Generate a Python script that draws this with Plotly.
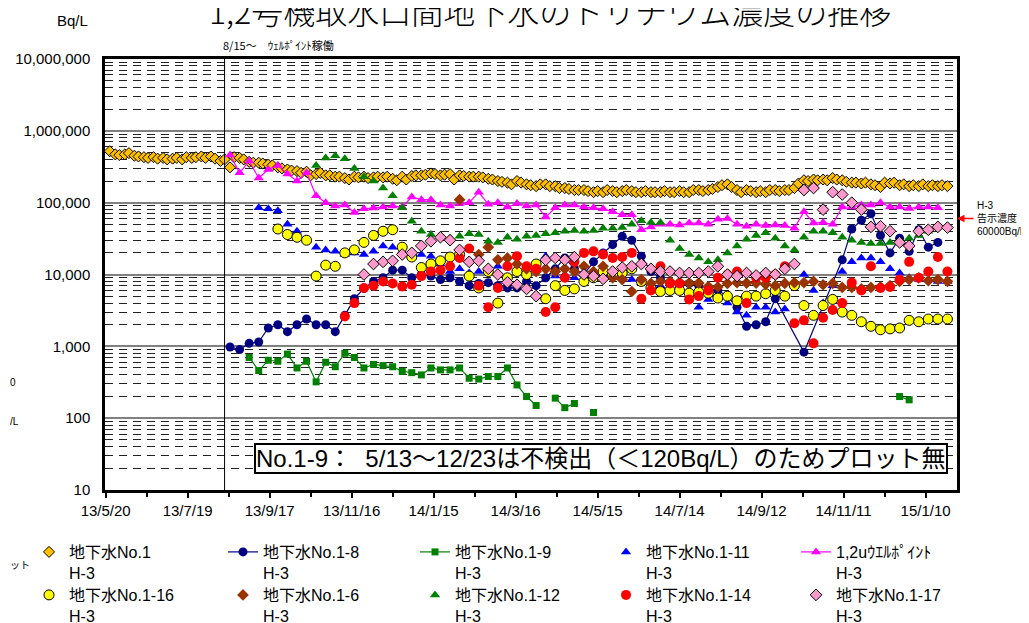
import math
import plotly.graph_objects as go

# weekly sampling dates (Mondays) shared by the weekly series
weeks = [
    "2013-05-20", "2013-05-27", "2013-06-03", "2013-06-10", "2013-06-17", "2013-06-24",
    "2013-07-01", "2013-07-08", "2013-07-15", "2013-07-22", "2013-07-29", "2013-08-05",
    "2013-08-12", "2013-08-19", "2013-08-26", "2013-09-02", "2013-09-09", "2013-09-16",
    "2013-09-23", "2013-09-30", "2013-10-07", "2013-10-14", "2013-10-21", "2013-10-28",
    "2013-11-04", "2013-11-11", "2013-11-18", "2013-11-25", "2013-12-02", "2013-12-09",
    "2013-12-16", "2013-12-23", "2013-12-30",
    "2014-01-06", "2014-01-13", "2014-01-20", "2014-01-27", "2014-02-03", "2014-02-10",
    "2014-02-17", "2014-02-24", "2014-03-03", "2014-03-10", "2014-03-17", "2014-03-24",
    "2014-03-31", "2014-04-07", "2014-04-14", "2014-04-21", "2014-04-28", "2014-05-05",
    "2014-05-12", "2014-05-19", "2014-05-26", "2014-06-02", "2014-06-09", "2014-06-16",
    "2014-06-23", "2014-06-30", "2014-07-07", "2014-07-14", "2014-07-21", "2014-07-28",
    "2014-08-04", "2014-08-11", "2014-08-18", "2014-08-25", "2014-09-01", "2014-09-08",
    "2014-09-15", "2014-09-22", "2014-09-29", "2014-10-06", "2014-10-13", "2014-10-20",
    "2014-10-27", "2014-11-03", "2014-11-10", "2014-11-17", "2014-11-24", "2014-12-01",
    "2014-12-08", "2014-12-15", "2014-12-22", "2014-12-29",
    "2015-01-05", "2015-01-12", "2015-01-19", "2015-01-26",
]

# 地下水No.1 (twice a week)
no1_samples = [
    ("2013-05-23", 520000), ("2013-05-27", 470000), ("2013-05-30", 460000), ("2013-06-03", 470000),
    ("2013-06-06", 490000), ("2013-06-10", 450000), ("2013-06-13", 440000), ("2013-06-17", 430000),
    ("2013-06-20", 420000), ("2013-06-24", 430000), ("2013-06-27", 410000), ("2013-07-01", 420000),
    ("2013-07-04", 400000), ("2013-07-08", 410000), ("2013-07-11", 420000), ("2013-07-15", 400000),
    ("2013-07-18", 430000), ("2013-07-22", 420000), ("2013-07-25", 430000), ("2013-07-29", 440000),
    ("2013-08-01", 420000), ("2013-08-05", 440000), ("2013-08-08", 410000), ("2013-08-12", 380000),
    ("2013-08-15", 400000), ("2013-08-19", 310000), ("2013-08-22", 430000), ("2013-08-26", 420000),
    ("2013-08-29", 400000), ("2013-09-02", 370000), ("2013-09-05", 360000), ("2013-09-09", 360000),
    ("2013-09-12", 350000), ("2013-09-16", 340000), ("2013-09-19", 330000), ("2013-09-23", 310000),
    ("2013-09-26", 300000), ("2013-09-30", 290000), ("2013-10-03", 280000), ("2013-10-07", 275000),
    ("2013-10-10", 260000), ("2013-10-14", 270000), ("2013-10-17", 240000), ("2013-10-21", 250000),
    ("2013-10-24", 260000), ("2013-10-28", 240000), ("2013-10-31", 240000), ("2013-11-04", 230000),
    ("2013-11-07", 230000), ("2013-11-11", 220000), ("2013-11-14", 210000), ("2013-11-18", 230000),
    ("2013-11-21", 225000), ("2013-11-25", 230000), ("2013-11-28", 220000), ("2013-12-02", 225000),
    ("2013-12-05", 230000), ("2013-12-09", 225000), ("2013-12-12", 230000), ("2013-12-16", 215000),
    ("2013-12-19", 205000), ("2013-12-23", 230000), ("2013-12-26", 210000), ("2013-12-30", 235000),
    ("2014-01-02", 240000), ("2014-01-06", 240000), ("2014-01-09", 245000), ("2014-01-13", 255000),
    ("2014-01-16", 250000), ("2014-01-20", 240000), ("2014-01-23", 245000), ("2014-01-27", 250000),
    ("2014-01-30", 210000), ("2014-02-03", 240000), ("2014-02-06", 235000), ("2014-02-10", 230000),
    ("2014-02-13", 230000), ("2014-02-17", 230000), ("2014-02-20", 225000), ("2014-02-24", 215000),
    ("2014-02-27", 210000), ("2014-03-03", 200000), ("2014-03-06", 195000), ("2014-03-10", 190000),
    ("2014-03-13", 180000), ("2014-03-17", 200000), ("2014-03-20", 190000), ("2014-03-24", 180000),
    ("2014-03-27", 175000), ("2014-03-31", 170000), ("2014-04-03", 180000), ("2014-04-07", 180000),
    ("2014-04-10", 170000), ("2014-04-14", 170000), ("2014-04-17", 160000), ("2014-04-21", 160000),
    ("2014-04-24", 155000), ("2014-04-28", 150000), ("2014-05-01", 150000), ("2014-05-05", 150000),
    ("2014-05-08", 145000), ("2014-05-12", 140000), ("2014-05-15", 145000), ("2014-05-19", 140000),
    ("2014-05-22", 150000), ("2014-05-26", 145000), ("2014-05-29", 140000), ("2014-06-02", 145000),
    ("2014-06-05", 150000), ("2014-06-09", 145000), ("2014-06-12", 140000), ("2014-06-16", 140000),
    ("2014-06-19", 145000), ("2014-06-23", 140000), ("2014-06-26", 140000), ("2014-06-30", 140000),
    ("2014-07-03", 145000), ("2014-07-07", 140000), ("2014-07-10", 140000), ("2014-07-14", 145000),
    ("2014-07-17", 140000), ("2014-07-21", 140000), ("2014-07-24", 150000), ("2014-07-28", 150000),
    ("2014-07-31", 145000), ("2014-08-04", 150000), ("2014-08-07", 155000), ("2014-08-11", 165000),
    ("2014-08-14", 175000), ("2014-08-18", 180000), ("2014-08-21", 165000), ("2014-08-25", 150000),
    ("2014-08-28", 140000), ("2014-09-01", 150000), ("2014-09-04", 145000), ("2014-09-08", 140000),
    ("2014-09-11", 145000), ("2014-09-15", 140000), ("2014-09-18", 150000), ("2014-09-22", 150000),
    ("2014-09-25", 145000), ("2014-09-29", 150000), ("2014-10-02", 150000), ("2014-10-06", 160000),
    ("2014-10-09", 185000), ("2014-10-13", 205000), ("2014-10-16", 200000), ("2014-10-20", 210000),
    ("2014-10-23", 205000), ("2014-10-27", 210000), ("2014-10-30", 205000), ("2014-11-03", 220000),
    ("2014-11-06", 210000), ("2014-11-10", 205000), ("2014-11-13", 195000), ("2014-11-17", 190000),
    ("2014-11-20", 190000), ("2014-11-24", 185000), ("2014-11-27", 190000), ("2014-12-01", 180000),
    ("2014-12-04", 175000), ("2014-12-08", 165000), ("2014-12-11", 190000), ("2014-12-15", 185000),
    ("2014-12-18", 190000), ("2014-12-22", 175000), ("2014-12-25", 180000), ("2014-12-29", 170000),
    ("2015-01-01", 175000), ("2015-01-05", 170000), ("2015-01-08", 180000), ("2015-01-12", 170000),
    ("2015-01-15", 175000), ("2015-01-19", 170000), ("2015-01-22", 175000), ("2015-01-26", 170000),
]

# weekly series, aligned with `weeks` (None = no measurement / not plotted)
no1_8 = [None] * 13 + [
    980, 900, 1100, 1150, 1800, 2000, 1600, 2000, 2400, 2000, 2000, 1600,
    2700, 4600, 6400, 8000, 9000, 11500, 11500, 9000, 10000, 9500, 8500, 9000,
    8000, 7000, 7500, 7700, 7000, 6500, 6500, 8000, 7000, 9000, 12000, 17000,
    12000, 10000, 15000, 20000, 26000, 34000, 30000, 18000, 11000, 9000, 7500, 7000,
    7500, 7000, 6500, 6000, 5000, 3500, 1900, 2000, 2200, 4600, None, None,
    830, None, None, None, 16000, 43000, 57000, 70000, 35000, 20000, 32000, 21000, 42000, 24000, 28000,
] + [None]

no1_9 = [None] * 15 + [
    700, 460, 640, 620, 780, 500, 620, 320, 600, 520, 800, 700,
    500, 560, 540, 520, 450, 430, 400, 500, 470, 470, 500, 360,
    350, 380, 380, 500, 290, 200, 150, None, 190, 140, 160, None, 120,
] + [None] * 31 + [200, 180] + [None] * 4

no1_11 = [None] * 16 + [
    85000, 82000, 77000, 50000, 40000, 30000, 24000, 22000, 21000, 19000, 20000, 19000,
    21000, 25000, 24000, 21000, 20000, 19000, 18000, 14000, 11000, 12000, 10500, 11000,
    12000, 13000, 13000, 12000, 11000, 12000, 18000, 9500, 10000, 9000, 10000, 11000,
    10000, 9000, 9500, 8500, 7700, 6000, 7000, 8000, 5800, 4800, 3500, 4500,
    5000, 4000, 3000, 2700, 3500, 3500, 3000, 3300, 7000, 10000, 6000, 4000,
    7000, 11000, 15000, 17000, 17000, 15000, 12000, 10500, 9000, 8500, 8500, 8000, 8000,
]

wellpoint = [None] * 13 + [
    460000, 260000, 380000, 220000, 290000, 330000, 250000, 200000, 260000,
    125000, 100000, 90000, 93000, 73000, 82000, 84000, 87000, 90000, 87000, 120000,
    110000, 110000, 93000, 90000, 97000, 100000, 140000, 95000, 100000, 87000, 97000, 90000, 93000,
    63000, 85000, 93000, 93000, 87000, 85000, 82000, 75000, 68000, 68000, 42000, 46000, 50000,
    50000, 49000, 52000, 52000, 50000, 59000, 60000, 50000, 47000, 50000, 48000, 49000, 48000, 44000,
    75000, 52000, 53000, 50000, 87000, 87000, 93000, 93000, 100000, 87000, 87000, 83000, 87000, 87000, 85000,
] + [None]

no1_16 = [None] * 18 + [
    43000, 36000, 33000, 30000, 9500, 13500, 13000, 20000, 22000, 28000, 35000, 40000,
    42000, 24000, 17500, 12500, 14000, 15500, 17500, 19000, 9500, 6500, 11000, 4000,
    9000, 11000, 10000, 14000, 4600, 7000, 6000, 6300, 8000, 9000, 11000, 10000,
    10500, 12000, 8000, 6500, 5800, 6000, 6000, 5500, 5700, 5500, 4700, 5000,
    4300, 5000, 5000, 5400, 6000, 5000, 7000, 3700, 2700, 3700, 4500, 3000,
    2700, 2200, 1900, 1700, 1750, 1800, 2300, 2200, 2400, 2400, 2400,
]

no1_6 = [None] * 37 + [110000, None] + [
    19000, 24000, 16000, 17000, 14000, 12000, 11000, 12000, 11000, 12000, 11000, 13000,
    11000, 13000, 9000, 8500, 5800, 8500, 7500, 8000, 8000, 7800, 7600, 7600,
    6800, 6700, 7500, 7700, 7600, 7600, 7300, 7000, 7500, 7700, 7700, 8000,
    7200, 7500, 6600, 6600, 6300, 6600, 6700, 7000, 8000, 8500, 9000, 8200, 8500, 8000,
]

no1_12 = [None] * 22 + [
    330000, 420000, 450000, 410000, 300000, 230000, 200000, 160000, 125000, 85000, 55000, 40000,
    36000, 35000, 32000, 34000, 37000, 36000, 29000, 28000, 33000, 31000, 34000, 35000,
    37000, 38000, 40000, 41000, 40000, 41000, 44000, 44000, 45000, 50000, 56000, 53000,
    53000, 30000, 23000, 19000, 17000, 15000, 16000, 20000, 25000, 31000, 35000, 38000,
    32000, 25000, 22000, 33000, 40000, 40000, 38000, 33000, 30000, 28000, 27000, 27000,
    28000, 29000, 32000, 35000, 40000, 46000,
] + [None]

no1_14 = [None] * 25 + [
    2600, 4000, 6500, 7000, 8000, 7500, 6800, 7200, 9500, 11000, 11500, 13000,
    17000, 23000, 7000, 3500, 6500, 13000, 18000, 13000, 12000, 3000, 3500, 9000,
    15000, 20000, 21000, 19000, 17000, 17500, 20000, 4600, 6000, 13000, 7500, 7500,
    4500, 5000, 6000, 9000, 10000, 11000, 4000, 9000, 9000, 10000, 13000, 2100,
    2300, 1100, 2500, 3200, 4000, 7700, 6000, 13000, 6500, 6700, 8500, 15000,
    9000, 11000, 17500, 11000,
]

no1_17 = [None] * 27 + [
    10000, 14000, 15000, 15500, 19000, 20000, 25000, 29000, 33000, 30000, 22000, 15000,
    15500, 12000, 10000, 7800, 7200, 6300, 5000, 16000, 17000, 16000, 17500, 10000,
    9500, 8700, 11000, 12500, 13000, 14000, 12000, 11000, 11000, 10500, 10500, 10500,
    11000, 13000, 10000, 9500, 10500, 9700, 10500, 10000, 12000, 14000, 150000, 160000,
    80000, 140000, 130000, 100000, 80000, 46000, 47000, 40000, 28000, 25000, 40000, 42000,
    46000, 45000,
]

x_tick_dates = ["2013-05-20", "2013-07-19", "2013-09-17", "2013-11-16", "2014-01-15", "2014-03-16",
                "2014-05-15", "2014-07-14", "2014-09-12", "2014-11-11", "2015-01-10"]
x_tick_labels = ["13/5/20", "13/7/19", "13/9/17", "13/11/16", "14/1/15", "14/3/16",
                 "14/5/15", "14/7/14", "14/9/12", "14/11/11", "15/1/10"]
x_minor_dates = ["2013-06-19", "2013-08-18", "2013-10-17", "2013-12-16", "2014-02-14", "2014-04-15",
                 "2014-06-14", "2014-08-13", "2014-10-12", "2014-12-11"]
y_tick_vals = [10, 100, 1000, 10000, 100000, 1000000, 10000000]
y_tick_labels = ["10", "100", "1,000", "10,000", "100,000", "1,000,000", "10,000,000"]
y_minor_vals = [m * 10 ** e for e in range(1, 7) for m in range(2, 10)]

for s in (no1_8, no1_9, no1_11, wellpoint, no1_16, no1_6, no1_12, no1_14, no1_17):
    assert len(s) == len(weeks), len(s)

FONT = "Liberation Sans, Arial, Noto Sans CJK JP, sans-serif"

# the page body has an 8px margin, so the figure is drawn 8px smaller and laid out in page pixels
OFF = 8
W, H = 1029 - OFF, 623 - OFF
PL, PR, PT, PB = 105, 957, 59, 490  # plot area in page pixels

# legend grid: 5 columns x 2 rows (page pixels)
legend_cols = [29, 223, 415, 606, 796]
legend_rows = [535, 578]

fig = go.Figure()
legends = {}


def add(name, x, y, slot, symbol, color, size, line=None, outline=None, gaps=False):
    row, col = divmod(slot, 5)
    key = "legend" if slot == 0 else f"legend{slot + 1}"
    legends[key] = dict(
        xref="container", yref="container", xanchor="left", yanchor="top",
        x=(legend_cols[col] - OFF) / W, y=1 - (legend_rows[row] - OFF) / H,
        valign="top", bgcolor="rgba(0,0,0,0)",
        font=dict(family=FONT, size=16, color="#000"),
    )
    marker = dict(symbol=symbol, color=color, size=size,
                  line=dict(color=outline or color, width=1 if outline else 0))
    fig.add_trace(go.Scatter(
        x=x, y=y, name=name, legend=key,
        mode="lines+markers" if line else "markers",
        marker=marker, line=dict(color=line, width=1.2) if line else None,
        connectgaps=gaps,
    ))


no1_x = [d for d, _ in no1_samples]
no1_y = [v for _, v in no1_samples]

add("地下水No.1<br>H-3", no1_x, no1_y, 0, "diamond", "#FFC000", 8.5, outline="#000000")
add("地下水No.1-8<br>H-3", weeks, no1_8, 1, "circle", "#000080", 9, line="#000080", gaps=True)
add("地下水No.1-9<br>H-3", weeks, no1_9, 2, "square", "#008000", 7, line="#008000")
add("地下水No.1-11<br>H-3", weeks, no1_11, 3, "triangle-up", "#0000FF", 9)
add("1,2uｳｴﾙﾎﾟｲﾝﾄ<br>H-3", weeks, wellpoint, 4, "triangle-up", "#FF00FF", 9,
    line="#FF00FF", gaps=True)
add("地下水No.1-16<br>H-3", weeks, no1_16, 5, "circle", "#FFFF00", 10, outline="#000000")
add("地下水No.1-6<br>H-3", weeks, no1_6, 6, "diamond", "#993300", 9)
add("地下水No.1-12<br>H-3", weeks, no1_12, 7, "triangle-up", "#008000", 9)
add("地下水No.1-14<br>H-3", weeks, no1_14, 8, "circle", "#FF0000", 10)
add("地下水No.1-17<br>H-3", weeks, no1_17, 9, "diamond", "#FF99CC", 9, outline="#000000")

fig.update_layout(
    width=W, height=H,
    margin=dict(l=PL - OFF, r=W - (PR - OFF), t=PT - OFF, b=H - (PB - OFF), autoexpand=False),
    paper_bgcolor="white", plot_bgcolor="white",
    font=dict(family=FONT, size=15, color="#000"),
    showlegend=True,
    **legends,
)

fig.update_xaxes(
    type="date", range=["2013-05-19 12:00", "2015-02-02"],
    tickmode="array", tickvals=x_tick_dates, ticktext=x_tick_labels,
    ticks="outside", ticklen=5, tickwidth=1.5, tickcolor="#000",
    tickfont=dict(size=15),
    minor=dict(tickvals=x_minor_dates, ticks="outside", ticklen=4, tickwidth=1.5, tickcolor="#000",
               showgrid=False),
    showgrid=False, zeroline=False,
    showline=True, linecolor="#000", linewidth=2.5, mirror=True,
)
fig.update_yaxes(
    type="log", range=[1, 7],
    tickmode="array", tickvals=y_tick_vals, ticktext=y_tick_labels,
    ticks="", ticklabelstandoff=9, tickfont=dict(size=15),
    showgrid=True, gridcolor="#808080", gridwidth=2,
    minor=dict(tickvals=y_minor_vals, showgrid=True, gridcolor="#222222", gridwidth=1,
               griddash="8px,6px", ticks=""),
    zeroline=False,
    showline=True, linecolor="#000", linewidth=2.5, mirror=True,
)

# 8/15 well point start
fig.add_shape(type="line", xref="x", yref="paper", x0="2013-08-15", x1="2013-08-15", y0=0, y1=1,
              line=dict(color="#000", width=1))


def px_x(px):
    return (px - PL) / (PR - PL)


def px_y(py):
    return (PB - py) / (PB - PT)


fig.add_annotation(text="1,2号機取水口間地下水のトリチウム濃度の推移", xref="paper", yref="paper",
                   x=px_x(550), y=px_y(10), showarrow=False, xanchor="center", yanchor="middle",
                   font=dict(size=32, weight=300, family="Noto Sans CJK JP, sans-serif"))
fig.add_annotation(text="Bq/L", xref="paper", yref="paper", x=px_x(72), y=px_y(20),
                   showarrow=False, xanchor="center", yanchor="middle", font=dict(size=15))
fig.add_annotation(text="8/15～　ｳｪﾙﾎﾟｲﾝﾄ稼働", xref="paper", yref="paper", x=px_x(278), y=px_y(45),
                   showarrow=False, xanchor="center", yanchor="middle",
                   font=dict(size=11, family="Noto Sans CJK JP, sans-serif"))
fig.add_annotation(text="No.1-9：  5/13～12/23は不検出（＜120Bq/L）のためプロット無",
                   xref="paper", yref="paper", x=px_x(601), y=px_y(458), showarrow=False,
                   xanchor="center", yanchor="middle", bgcolor="white", bordercolor="#000",
                   borderwidth=2, borderpad=0, font=dict(size=24))
fig.add_annotation(text="H-3<br>告示濃度<br>60000Bq/L", xref="paper", yref="y",
                   x=px_x(975), y=math.log10(60000), showarrow=False, xanchor="left",
                   yanchor="middle", align="left", font=dict(size=10))
fig.add_annotation(text="", xref="paper", yref="y", x=1.0, y=math.log10(60000),
                   ax=18, ay=0, showarrow=True, arrowhead=2, arrowsize=1, arrowwidth=1.5,
                   arrowcolor="#FF0000")
# partial labels cut at the left edge of the sheet
for txt, py in (("0", 382), ("/L", 421), ("ット", 565)):
    fig.add_annotation(text=txt, xref="paper", yref="paper", x=px_x(OFF), y=px_y(py),
                       xanchor="left", yanchor="middle", showarrow=False, font=dict(size=10))

fig.write_html("out.html")
